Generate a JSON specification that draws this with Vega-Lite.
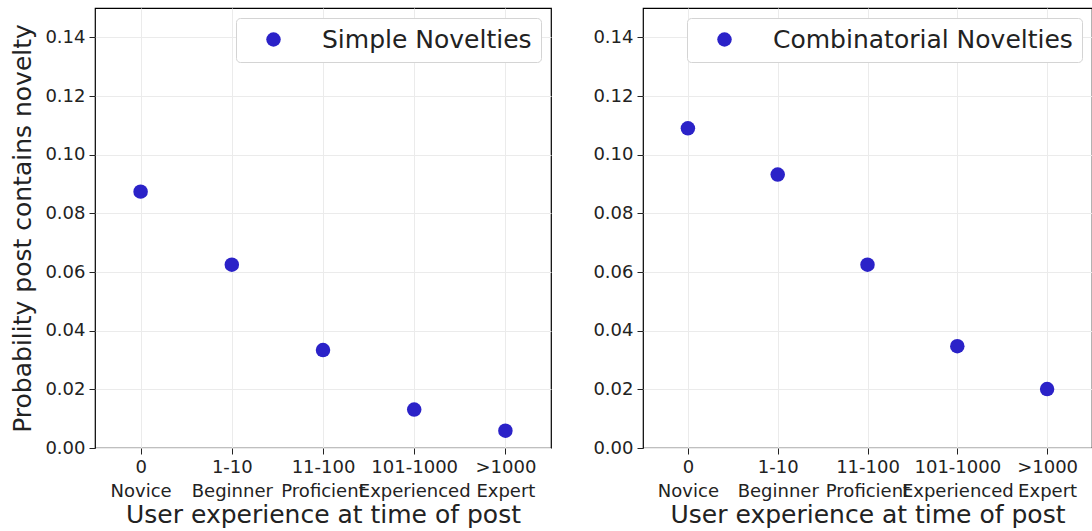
{
  "$schema": "https://vega.github.io/schema/vega-lite/v6.json",
  "padding": {"left": 10, "top": 7, "right": 0, "bottom": 0},
  "spacing": 40,
  "datasets": {
    "simple": [
      {"level": "0|Novice", "prob": 0.0874, "kind": "Simple Novelties"},
      {"level": "1-10|Beginner", "prob": 0.0625, "kind": "Simple Novelties"},
      {"level": "11-100|Proficient", "prob": 0.0334, "kind": "Simple Novelties"},
      {"level": "101-1000|Experienced", "prob": 0.0131, "kind": "Simple Novelties"},
      {"level": ">1000|Expert", "prob": 0.0059, "kind": "Simple Novelties"}
    ],
    "combinatorial": [
      {"level": "0|Novice", "prob": 0.1090, "kind": "Combinatorial Novelties"},
      {"level": "1-10|Beginner", "prob": 0.0932, "kind": "Combinatorial Novelties"},
      {"level": "11-100|Proficient", "prob": 0.0625, "kind": "Combinatorial Novelties"},
      {"level": "101-1000|Experienced", "prob": 0.0347, "kind": "Combinatorial Novelties"},
      {"level": ">1000|Expert", "prob": 0.0201, "kind": "Combinatorial Novelties"}
    ]
  },
  "config": {
    "font": "DejaVu Sans",
    "view": {"stroke": "#000000", "strokeWidth": 1.2},
    "axis": {
      "labelFont": "DejaVu Sans",
      "titleFont": "DejaVu Sans",
      "labelFontSize": 18,
      "titleFontSize": 25,
      "titleFontWeight": "normal",
      "labelColor": "#222222",
      "titleColor": "#222222",
      "tickColor": "#222222",
      "tickSize": 6,
      "labelPadding": 4,
      "domain": false,
      "gridColor": "#ebebeb",
      "gridWidth": 1
    },
    "legend": {
      "labelFont": "DejaVu Sans",
      "labelFontSize": 25,
      "labelColor": "#222222",
      "labelLimit": 500,
      "labelOffset": 36,
      "symbolOffset": 16,
      "strokeColor": "#d4d4d4",
      "cornerRadius": 4,
      "padding": 9,
      "symbolSize": 210,
      "symbolType": "circle",
      "fillColor": "#ffffff",
      "offset": 10
    }
  },
  "resolve": {"scale": {"color": "independent"}, "legend": {"color": "independent"}},
  "hconcat": [
    {
      "width": 456,
      "height": 440,
      "data": {"name": "simple"},
      "mark": {"type": "point", "filled": true, "size": 210, "opacity": 1},
      "encoding": {
        "x": {
          "field": "level",
          "type": "ordinal",
          "sort": null,
          "scale": {"type": "point", "padding": 0.5},
          "axis": {"labelAngle": 0, "labelExpr": "split(datum.label, '|')", "labelLineHeight": 24, "grid": true, "title": "User experience at time of post", "titlePadding": 2}
        },
        "y": {
          "field": "prob",
          "type": "quantitative",
          "scale": {"domain": [0, 0.15], "nice": false},
          "axis": {"values": [0, 0.02, 0.04, 0.06, 0.08, 0.1, 0.12, 0.14], "format": ".2f", "grid": true, "title": "Probability post contains novelty", "titlePadding": 9}
        },
        "color": {
          "field": "kind",
          "type": "nominal",
          "scale": {"range": ["#2b22c8"]},
          "legend": {"title": null, "orient": "top-right"}
        }
      }
    },
    {
      "width": 449,
      "height": 440,
      "data": {"name": "combinatorial"},
      "mark": {"type": "point", "filled": true, "size": 210, "opacity": 1},
      "encoding": {
        "x": {
          "field": "level",
          "type": "ordinal",
          "sort": null,
          "scale": {"type": "point", "padding": 0.5},
          "axis": {"labelAngle": 0, "labelExpr": "split(datum.label, '|')", "labelLineHeight": 24, "grid": true, "title": "User experience at time of post", "titlePadding": 2}
        },
        "y": {
          "field": "prob",
          "type": "quantitative",
          "scale": {"domain": [0, 0.15], "nice": false},
          "axis": {"values": [0, 0.02, 0.04, 0.06, 0.08, 0.1, 0.12, 0.14], "format": ".2f", "grid": true, "title": null}
        },
        "color": {
          "field": "kind",
          "type": "nominal",
          "scale": {"range": ["#2b22c8"]},
          "legend": {"title": null, "orient": "top-right"}
        }
      }
    }
  ]
}
